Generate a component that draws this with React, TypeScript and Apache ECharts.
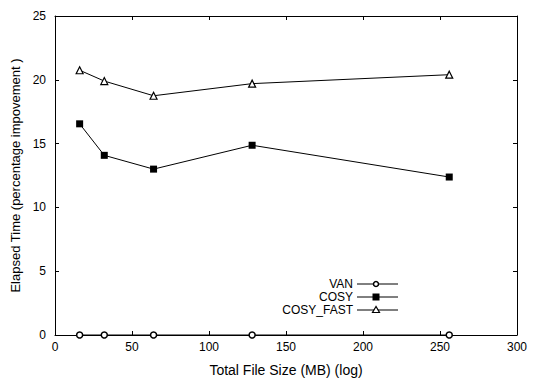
import React, { useEffect, useRef } from "react";
import * as echarts from "echarts";

const fileSizes = [16, 32, 64, 128, 256];
const vanValues = [0, 0, 0, 0, 0];
const cosyValues = [16.55, 14.08, 13.0, 14.87, 12.38];
const cosyFastValues = [20.75, 19.9, 18.75, 19.7, 20.4];
const seriesNames = ["VAN", "COSY", "COSY_FAST"];
const xAxisTitle = "Total File Size (MB) (log)";
const yAxisTitle = "Elapsed Time (percentage impovement )";

const FONT = "Liberation Sans, Arial, Helvetica, sans-serif";

function pairs(vals: number[]) {
  return fileSizes.map((x, i) => [x, vals[i]]);
}

export default function App() {
  const ref = useRef<HTMLDivElement>(null);
  useEffect(() => {
    if (!ref.current) return;
    const chart = echarts.init(ref.current, undefined, { renderer: "svg" });
    const axisLine = { show: true, onZero: false, lineStyle: { color: "#000", width: 1 } };
    const tick = { show: true, inside: true, length: 4, lineStyle: { color: "#000" } };
    const label = { color: "#000", fontFamily: FONT, fontSize: 12 };
    const legendX = 353;
    const legendRows = [284, 297, 310];
    const lineL = 357, lineR = 398, mid = 376;
    const graphics: any[] = [];
    seriesNames.forEach((n, i) => {
      const y = legendRows[i];
      graphics.push({
        type: "text",
        x: legendX,
        y,
        style: { text: n, fill: "#000", font: `12px ${FONT}`, textAlign: "right", textVerticalAlign: "middle" },
      });
      graphics.push({
        type: "line",
        shape: { x1: lineL, y1: y, x2: lineR, y2: y },
        style: { stroke: "#000", lineWidth: 1 },
      });
    });
    graphics.push({ type: "circle", shape: { cx: mid, cy: legendRows[0], r: 2.5 }, style: { fill: "#fff", stroke: "#000", lineWidth: 1.5 } });
    graphics.push({ type: "rect", shape: { x: mid - 3.5, y: legendRows[1] - 3.5, width: 7, height: 7 }, style: { fill: "#000" } });
    graphics.push({
      type: "polygon",
      shape: { points: [[mid, legendRows[2] - 3.5], [mid - 3.5, legendRows[2] + 2.5], [mid + 3.5, legendRows[2] + 2.5]] },
      style: { fill: "#fff", stroke: "#000", lineWidth: 1.2 },
    });

    chart.setOption({
      animation: false,
      backgroundColor: "#fff",
      grid: { left: 55, top: 16, right: 21, bottom: 53, containLabel: false },
      xAxis: [
        {
          type: "value", min: 0, max: 300, interval: 50,
          name: xAxisTitle, nameLocation: "middle", nameGap: 28,
          nameTextStyle: { color: "#000", fontFamily: FONT, fontSize: 14 },
          axisLine, axisTick: tick, axisLabel: { ...label, margin: 6 }, splitLine: { show: false },
        },
        {
          type: "value", min: 0, max: 300, interval: 50, position: "top",
          axisLine, axisTick: tick, axisLabel: { show: false }, splitLine: { show: false },
        },
      ],
      yAxis: [
        {
          type: "value", min: 0, max: 25, interval: 5,
          name: yAxisTitle, nameLocation: "middle", nameGap: 33,
          nameTextStyle: { color: "#000", fontFamily: FONT, fontSize: 13 },
          axisLine, axisTick: tick, axisLabel: { ...label, margin: 9 }, splitLine: { show: false },
        },
        {
          type: "value", min: 0, max: 25, interval: 5, position: "right",
          axisLine, axisTick: tick, axisLabel: { show: false }, splitLine: { show: false },
        },
      ],
      series: [
        {
          name: seriesNames[0], type: "line", data: pairs(vanValues),
          symbol: "circle", symbolSize: 6,
          itemStyle: { color: "#fff", borderColor: "#000", borderWidth: 1.5 },
          lineStyle: { color: "#000", width: 1 },
        },
        {
          name: seriesNames[1], type: "line", data: pairs(cosyValues),
          symbol: "rect", symbolSize: 7,
          itemStyle: { color: "#000" },
          lineStyle: { color: "#000", width: 1 },
        },
        {
          name: seriesNames[2], type: "line", data: pairs(cosyFastValues),
          symbol: "triangle", symbolSize: 7,
          itemStyle: { color: "#fff", borderColor: "#000", borderWidth: 1.2 },
          lineStyle: { color: "#000", width: 1 },
        },
      ],
      graphic: graphics,
    });
    return () => chart.dispose();
  }, []);
  return <div ref={ref} style={{ position: "fixed", left: 0, top: 0, width: 538, height: 388 }} />;
}
